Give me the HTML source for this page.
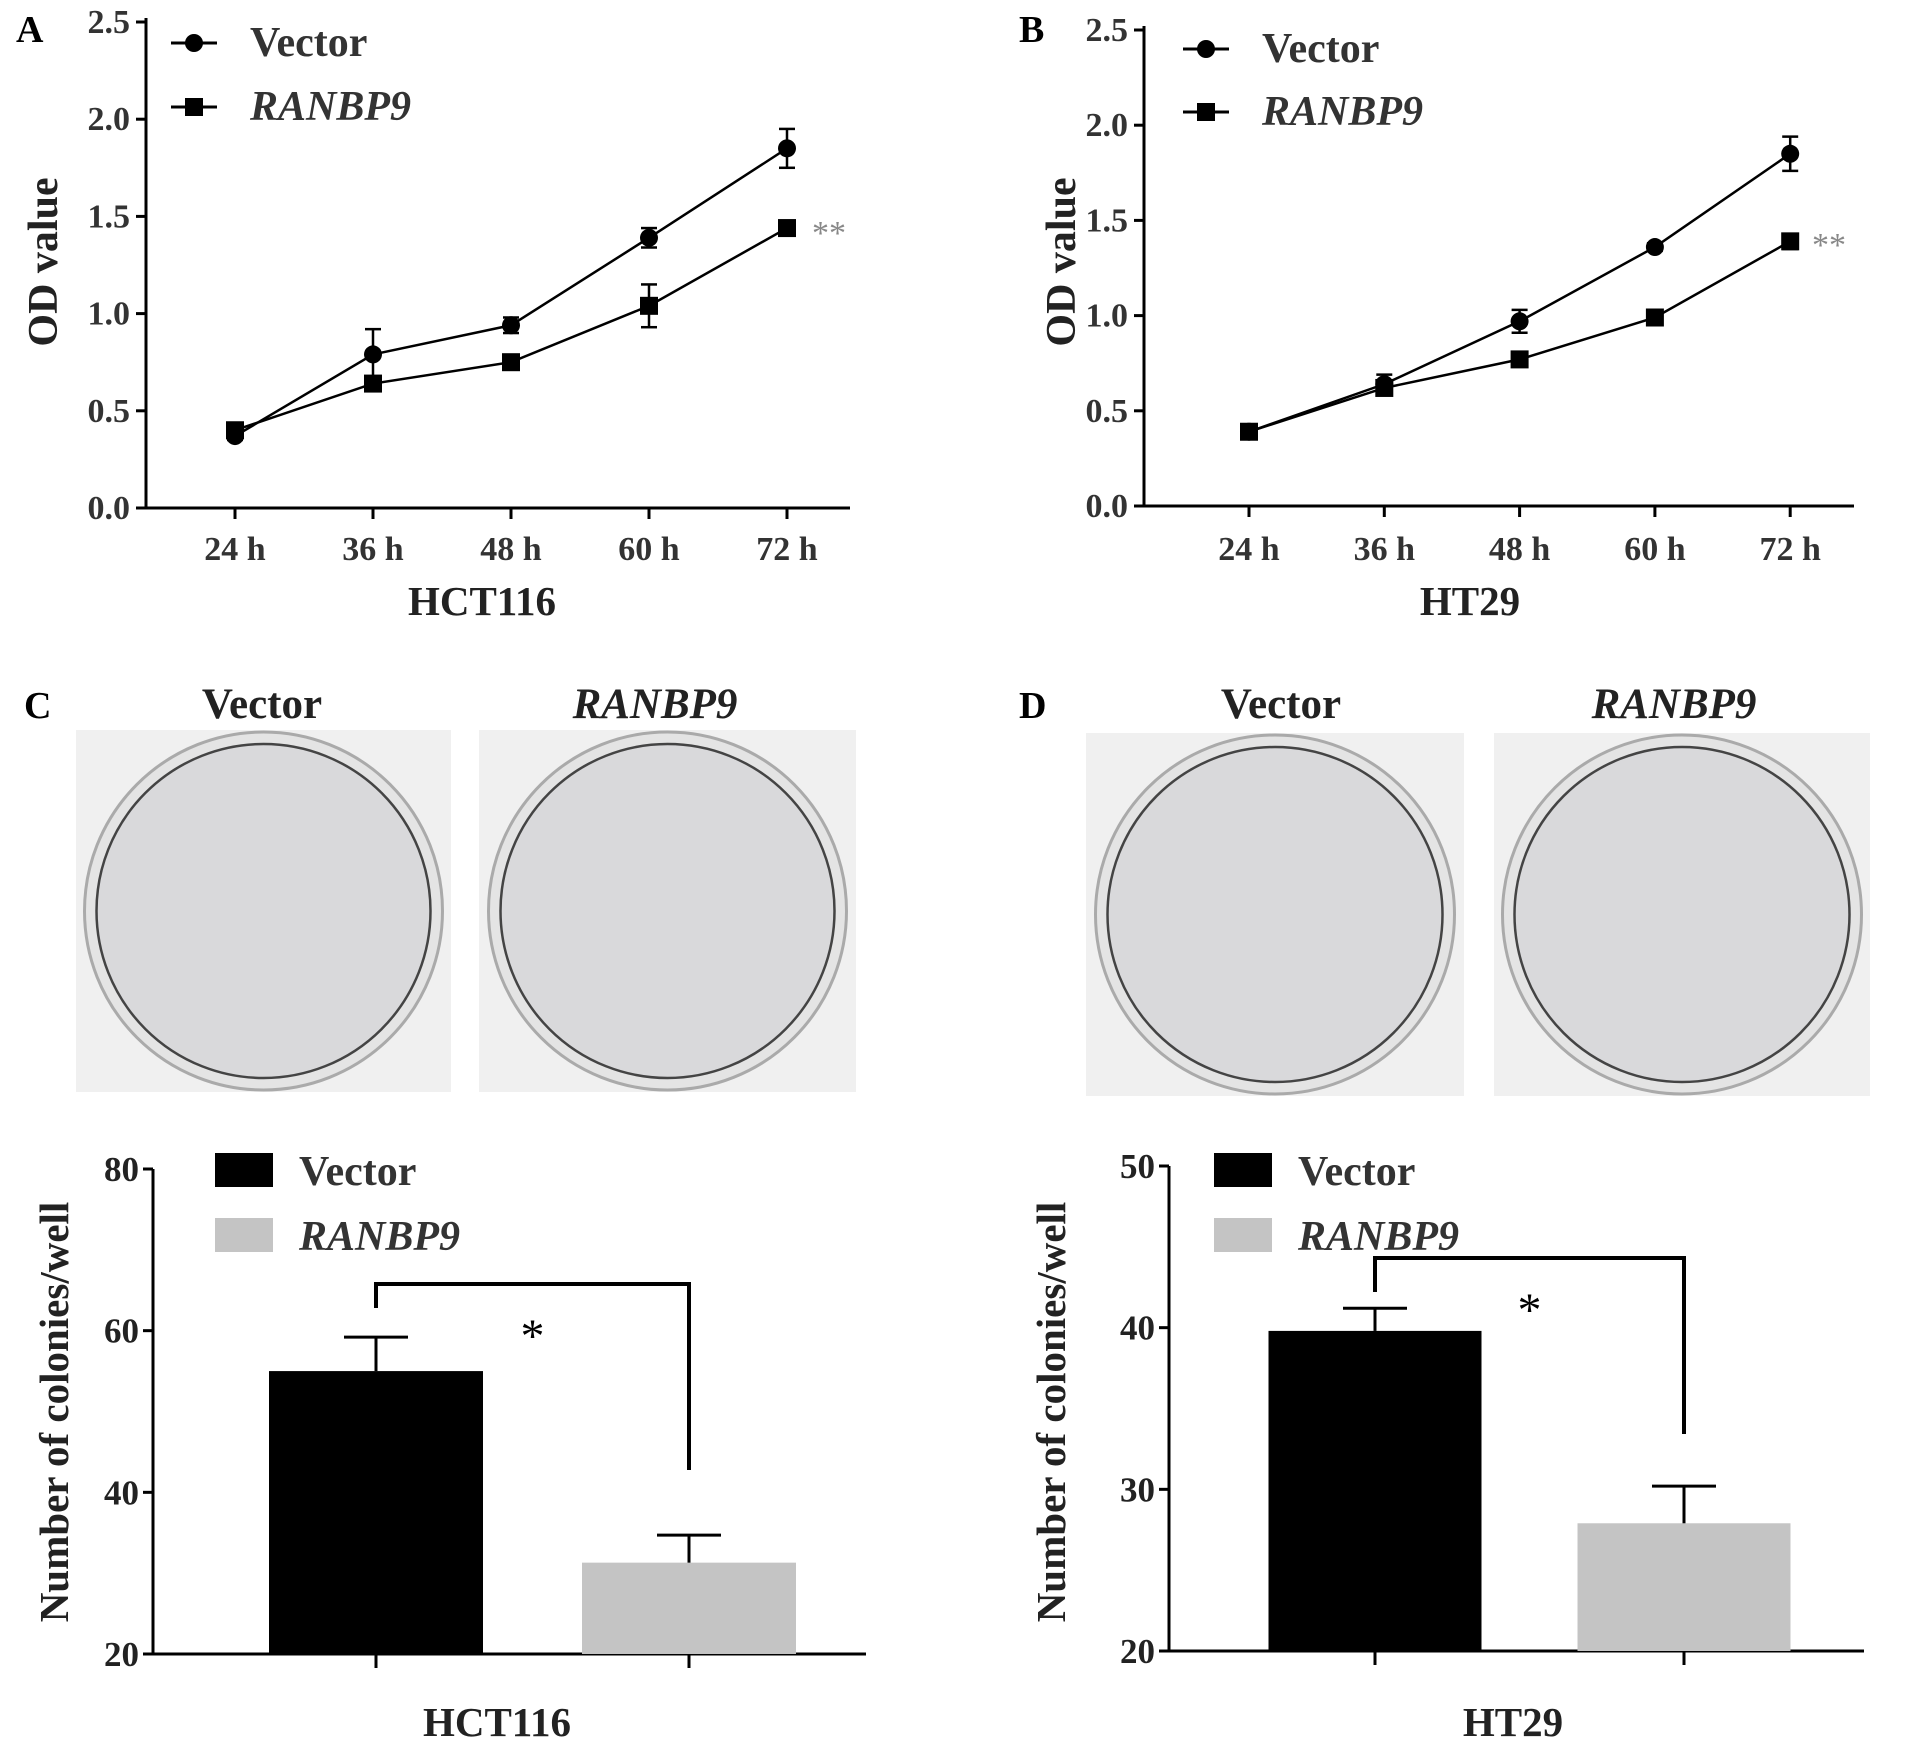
<!DOCTYPE html>
<html><head><meta charset="utf-8"><style>
html,body{margin:0;padding:0;background:#fff}
svg{display:block;font-family:"Liberation Serif",serif}
</style></head><body>
<svg id="fig" width="1913" height="1746" viewBox="0 0 1913 1746" xmlns="http://www.w3.org/2000/svg">
<g id="photos"></g>
</svg>
<script>
const NS='http://www.w3.org/2000/svg';
const svg=document.getElementById('fig');
function el(tag,attrs,parent,text){const e=document.createElementNS(NS,tag);for(const k in attrs)e.setAttribute(k,attrs[k]);if(text!==undefined)e.textContent=text;(parent||svg).appendChild(e);return e;}

// ---- line chart data ----
const timeLabels=['24 h','36 h','48 h','60 h','72 h'];
const odTicks=[0,0.5,1.0,1.5,2.0,2.5];
const hctVector=[0.37,0.79,0.94,1.39,1.85];
const hctVectorErr=[0.02,0.13,0.04,0.05,0.10];
const hctRanbp=[0.40,0.64,0.75,1.04,1.44];
const hctRanbpErr=[0.02,0.02,0.02,0.11,0.03];
const ht29Vector=[0.39,0.64,0.97,1.36,1.85];
const ht29VectorErr=[0.02,0.05,0.06,0.02,0.09];
const ht29Ranbp=[0.39,0.62,0.77,0.99,1.39];
const ht29RanbpErr=[0.02,0.02,0.02,0.02,0.04];

// ---- bar chart data ----
const barGroups=['Vector','RANBP9'];
const hctColonies=[55,31.3];
const hctColoniesErr=[4.2,3.4];
const ht29Colonies=[39.8,27.9];
const ht29ColoniesErr=[1.4,2.3];
const hctBarTicks=[20,40,60,80];
const ht29BarTicks=[20,30,40,50];

function lineChart(o){
  const g=el('g',{});
  
  
  const y=v=>o.y0+(o.y1-o.y0)*(v-0)/(2.5);
  const x=i=>o.xs+i*o.dx;
  el('text',{x:o.letterX,y:42,'font-size':38,'font-weight':'bold'},g,o.letter);
  el('line',{x1:o.ax,y1:o.y1-4,x2:o.ax,y2:o.y0+1,stroke:'#000','stroke-width':3},g);
  el('line',{x1:o.ax-1,y1:o.y0,x2:o.xend,y2:o.y0,stroke:'#000','stroke-width':3},g);
  odTicks.forEach(t=>{
    el('line',{x1:o.ax-10,y1:y(t),x2:o.ax,y2:y(t),stroke:'#000','stroke-width':3},g);
    const tl=el('text',{x:o.ax-16,y:y(t)+11,'font-size':34,'font-weight':'bold','text-anchor':'end',fill:'#333'},g,t.toFixed(1));
    
  });
  timeLabels.forEach((l,i)=>{
    el('line',{x1:x(i),y1:o.y0,x2:x(i),y2:o.y0+11,stroke:'#000','stroke-width':3},g);
    const tl=el('text',{x:x(i),y:560,'font-size':34,'font-weight':'bold','text-anchor':'middle',fill:'#333'},g,l);
    
  });
  const xt=el('text',{x:o.titleX,y:615,'font-size':41,'font-weight':'bold','text-anchor':'middle',fill:'#222'},g,o.title);
  
  const yt=el('text',{x:0,y:0,'font-size':42,'font-weight':'bold','text-anchor':'middle',fill:'#222',transform:`translate(${o.ylx},262) rotate(-90)`},g,'OD value');
  
  [[o.vec,o.vecErr,'circle'],[o.ran,o.ranErr,'square']].forEach(([vals,errs,m])=>{
    const pts=vals.map((v,i)=>x(i)+','+y(v)).join(' ');
    const pl=el('polyline',{points:pts,fill:'none',stroke:'#000','stroke-width':2.5},g);
    
    vals.forEach((v,i)=>{
      const e=errs[i];
      el('line',{x1:x(i),y1:y(v+e),x2:x(i),y2:y(v-e),stroke:'#000','stroke-width':2.5},g);
      el('line',{x1:x(i)-8,y1:y(v+e),x2:x(i)+8,y2:y(v+e),stroke:'#000','stroke-width':2.5},g);
      el('line',{x1:x(i)-8,y1:y(v-e),x2:x(i)+8,y2:y(v-e),stroke:'#000','stroke-width':2.5},g);
      let p;
      if(m==='circle')p=el('circle',{cx:x(i),cy:y(v),r:9,fill:'#000'},g);
      else p=el('rect',{x:x(i)-9,y:y(v)-9,width:18,height:18,fill:'#000'},g);
      
      
    });
  });
  const st=el('text',{x:o.starX,y:o.starY,'font-size':34,fill:'#888'},g,'**');
  
  [['Vector','circle',o.legY1,'normal'],['RANBP9','square',o.legY2,'italic']].forEach(([t,m,ly,fs])=>{
    const lg=el('g',{},g);
    
    
    el('line',{x1:o.legX,y1:ly,x2:o.legX+46,y2:ly,stroke:'#000','stroke-width':3},lg);
    if(m==='circle')el('circle',{cx:o.legX+23,cy:ly,r:9},lg);else el('rect',{x:o.legX+14,y:ly-9,width:18,height:18},lg);
    el('text',{x:o.legX+79,y:ly+13,'font-size':42,'font-weight':'bold','font-style':fs,fill:'#333'},lg,t);
  });
}
lineChart({name:'line-chart-hct116',letter:'A',letterX:16,ax:146,y0:508,y1:22,xs:235,dx:138,xend:850,title:'HCT116',titleX:482,ylx:57,
  vec:hctVector,vecErr:hctVectorErr,ran:hctRanbp,ranErr:hctRanbpErr,starX:812,starY:244,legX:171,legY1:43,legY2:107});
lineChart({name:'line-chart-ht29',letter:'B',letterX:1019,ax:1144,y0:506,y1:30,xs:1249,dx:135.3,xend:1854,title:'HT29',titleX:1470,ylx:1075,
  vec:ht29Vector,vecErr:ht29VectorErr,ran:ht29Ranbp,ranErr:ht29RanbpErr,starX:1812,starY:256,legX:1183,legY1:49,legY2:112});

const ph=document.getElementById('photos');
function dish(x0,y0,w,h,name){
  const g=el('g',{},ph);
  
  
  el('rect',{x:x0,y:y0,width:w,height:h,fill:'#f0f0f0'},g);
  const cx=x0+w/2,cy=y0+h/2,r=Math.min(w,h)/2-2;
  el('circle',{cx:cx,cy:cy,r:r,fill:'#e4e4e4',stroke:'#aaa','stroke-width':3},g);
  el('circle',{cx:cx,cy:cy,r:r-12,fill:'#d9d9db',stroke:'#444','stroke-width':2.5},g);
}
dish(76,730,375,362,'vector-dish-hct116');
dish(479,730,377,362,'ranbp9-dish-hct116');
dish(1086,733,378,363,'vector-dish-ht29');
dish(1494,733,376,363,'ranbp9-dish-ht29');
[['C',24,262,655],['D',1019,1281,1674]].forEach(([L,lx,v,r])=>{
  el('text',{x:lx,y:718,'font-size':38,'font-weight':'bold'},svg,L);
  el('text',{x:v,y:718,'font-size':43,'font-weight':'bold','text-anchor':'middle',fill:'#222'},svg,'Vector');
  el('text',{x:r,y:718,'font-size':43,'font-weight':'bold','font-style':'italic','text-anchor':'middle',fill:'#222'},svg,'RANBP9');
});

function barChart(o){
  const g=el('g',{});
  
  
  const tmin=o.ticks[0],tmax=o.ticks[o.ticks.length-1];
  const y=v=>o.y0+(o.y1-o.y0)*(v-tmin)/(tmax-tmin);
  el('line',{x1:o.ax,y1:o.y1,x2:o.ax,y2:o.y0,stroke:'#000','stroke-width':3},g);
  el('line',{x1:o.ax-10,y1:o.y0,x2:o.xend,y2:o.y0,stroke:'#000','stroke-width':3},g);
  o.ticks.forEach(t=>{
    el('line',{x1:o.ax-10,y1:y(t),x2:o.ax,y2:y(t),stroke:'#000','stroke-width':3},g);
    el('text',{x:o.ax-14,y:y(t)+12,'font-size':35,'font-weight':'bold','text-anchor':'end',fill:'#222'},g,String(t));
  });
  const cols=['#000','#c4c4c4'];
  const centers=[];
  o.vals.forEach((v,i)=>{
    const cx=o.c0+i*o.dc;centers.push(cx);
    const b=el('rect',{x:cx-o.bw/2,y:y(v),width:o.bw,height:o.y0-y(v),fill:cols[i]},g);
    
    
    const e=o.errs[i];
    el('line',{x1:cx,y1:y(v),x2:cx,y2:y(v+e),stroke:'#000','stroke-width':3},g);
    el('line',{x1:cx-32,y1:y(v+e),x2:cx+32,y2:y(v+e),stroke:'#000','stroke-width':3},g);
    el('line',{x1:cx,y1:o.y0,x2:cx,y2:o.y0+14,stroke:'#000','stroke-width':3},g);
  });
  const br=el('polyline',{points:`${centers[0]},${o.bl} ${centers[0]},${o.bt} ${centers[1]},${o.bt} ${centers[1]},${o.br}`,fill:'none',stroke:'#000','stroke-width':4},g);
  
  el('text',{x:(centers[0]+centers[1])/2,y:o.bt+68,'font-size':48,'text-anchor':'middle'},g,'*');
  [['Vector','#000',0,'normal'],['RANBP9','#c4c4c4',1,'italic']].forEach(([t,c,i,fs])=>{
    const lg=el('g',{},g);
    
    
    el('rect',{x:o.legX,y:1153+i*65,width:58,height:34,fill:c},lg);
    el('text',{x:o.legX+84,y:1185+i*65,'font-size':42,'font-weight':'bold','font-style':fs,fill:'#333'},lg,t);
  });
  el('text',{x:0,y:0,'font-size':41,'font-weight':'bold','text-anchor':'middle',fill:'#222',transform:`translate(${o.ylx},1412) rotate(-90)`},g,'Number of colonies/well');
  el('text',{x:o.titleX,y:1736,'font-size':41,'font-weight':'bold','text-anchor':'middle',fill:'#222'},g,o.title);
}
barChart({name:'bar-chart-hct116',ax:153,y0:1654,y1:1169,xend:866,ticks:hctBarTicks,vals:hctColonies,errs:hctColoniesErr,c0:376,dc:313,bw:214,
  bl:1308,bt:1284,br:1470,legX:215,ylx:68,title:'HCT116',titleX:497});
barChart({name:'bar-chart-ht29',ax:1169,y0:1651,y1:1166,xend:1864,ticks:ht29BarTicks,vals:ht29Colonies,errs:ht29ColoniesErr,c0:1375,dc:309,bw:213,
  bl:1292,bt:1258,br:1434,legX:1214,ylx:1065,title:'HT29',titleX:1513});
</script>
</body></html>
